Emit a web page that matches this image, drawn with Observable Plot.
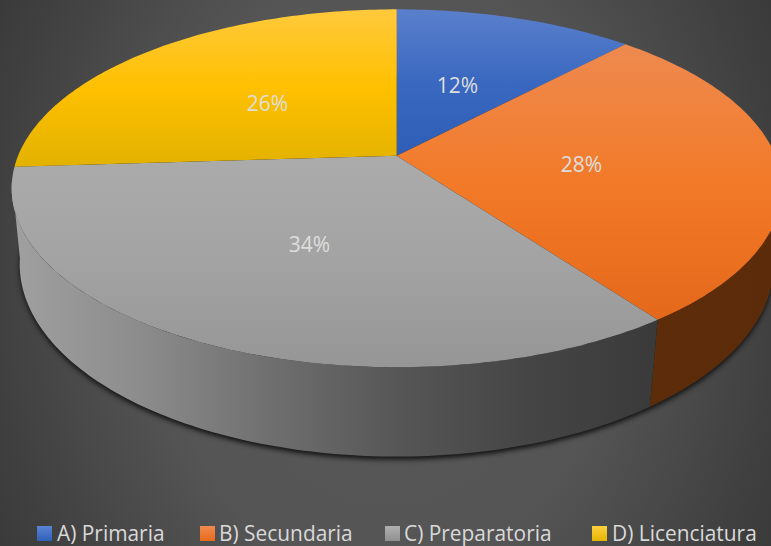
<!DOCTYPE html>
<html><head><meta charset="utf-8">
<script src="https://cdn.jsdelivr.net/npm/d3@7"></script>
<script src="https://cdn.jsdelivr.net/npm/@observablehq/plot@0.6"></script>
<style>
html,body{margin:0;padding:0;width:771px;height:546px;overflow:hidden;}
body{background:radial-gradient(ellipse 460px 600px at 50% 50%,#585858 0%,#555555 50%,#404040 85%,#383838 100%);font-family:"Open Sans",sans-serif;}
svg{display:block;background:transparent!important;}
#legend{position:relative;height:32px;color:#d9d9d9;font-size:20.9px;}
#legend span{position:absolute;top:7px;white-space:nowrap;line-height:24px;}
#legend i{position:absolute;top:12px;width:14.5px;height:15px;}
</style></head><body>
<div id="chart"></div><div id="legend"></div>
<script>
const categories = ["A) Primaria","B) Secundaria","C) Preparatoria","D) Licenciatura"];
const shares = [12,28,34,26];
const labels = ["12%","28%","34%","26%"];
const labelX = [457,581,309,267];
const labelY = [85.5,164.5,244.5,104];
const swatchTop = ["#5b84d4","#f08a50","#b0b0b0","#ffcf40"];
const swatchBottom = ["#2f60b8","#e86a18","#909090","#e5b400"];
const faceStops = [["#5a80cc","#3a68c0","#2e5eb6"],["#ee8a50","#f27a28","#e5681a"],["#ababab","#a3a3a3","#969696"],["#ffc93c","#ffc000","#e2b200"]];
const W=771,H=514;
const ax=396.2, topY=155.2, topRx=378.6, topRy=173, topK=0.182, botY=231.1, botRx=371.5, botRy=186.7, botK=0.17;
const rad=d=>d*Math.PI/180;
const pt=(deg,cy,rx,ry,k)=>{const t=rad(deg),w=1+k*Math.cos(t);return [ax+rx*Math.sin(t)/w, cy-ry*Math.cos(t)/w];};
const upper=d=>pt(d,topY,topRx,topRy,topK), lower=d=>pt(d,botY,botRx,botRy,botK);
const arc=(a,b,f)=>{const n=Math.max(2,Math.ceil(Math.abs(b-a)));return d3.range(n+1).map(i=>f(a+(b-a)*i/n));};
const total=d3.sum(shares);
let acc=0;
const slices=shares.map(s=>{const a=acc/total*360;acc+=s;return {a,b:acc/total*360};});
const faces=slices.map(s=>[[ax,topY],...arc(s.a,s.b,upper)]);
const LEFT=262;
const sideOrange=[[ax,topY],...arc(100,slices[1].b,upper),...arc(slices[1].b,100,lower),upper(100)];
const sideGray=[[ax,topY],...arc(slices[2].a,LEFT,upper),...arc(LEFT,slices[2].a,lower),upper(slices[2].a)];
const shadow=arc(0,360,lower);
const defsMark=()=>{
  const NS="http://www.w3.org/2000/svg";
  const d=document.createElementNS(NS,"defs");
  const grad=(id,stops,x2,y2)=>{
    const g=document.createElementNS(NS,"linearGradient");
    g.setAttribute("id",id);g.setAttribute("x1","0");g.setAttribute("y1","0");g.setAttribute("x2",x2);g.setAttribute("y2",y2);
    stops.forEach((c,i)=>{const st=document.createElementNS(NS,"stop");st.setAttribute("offset",i/(stops.length-1));st.setAttribute("stop-color",c);g.appendChild(st);});
    d.appendChild(g);
  };
  faceStops.forEach((s,i)=>grad("face"+i,s,"0","1"));
  grad("sideGray",["#a0a0a0","#8c8c8c","#6f6f6f","#565656","#454545","#3a3a3a"],"1","0");
  grad("sideOrange",["#5e2d0a","#5c2c0a"],"1","0");
  return d;
};
const poly=(pts,opts)=>Plot.line(pts,{x:d=>d[0],y:d=>d[1],...opts});
const plot=Plot.plot({
  width:W,height:H,margin:0,
  x:{domain:[0,W],range:[0,W],axis:null},
  y:{domain:[0,H],range:[0,H],axis:null},
  style:{background:"transparent"},
  marks:[
    defsMark,
    poly(shadow,{fill:"#141414",dx:0,dy:3,imageFilter:"blur(2.5px)"}),
    poly(sideOrange,{fill:"url(#sideOrange)"}),
    poly(sideGray,{fill:"url(#sideGray)"}),
    ...faces.map((f,i)=>poly(f,{fill:`url(#face${i})`})),
    Plot.text(labels,{x:(d,i)=>labelX[i],y:(d,i)=>labelY[i],text:d=>d,fill:"#dedede",fontSize:21,fontFamily:"Open Sans"})
  ]
});
document.getElementById("chart").appendChild(plot);
const lg=document.getElementById("legend");
const swX=[37,200,385,592], txX=[57,219,404,612];
categories.forEach((c,i)=>{
  const sw=document.createElement("i");sw.style.left=swX[i]+"px";sw.style.background=`linear-gradient(${swatchTop[i]},${swatchBottom[i]})`;lg.appendChild(sw);
  const t=document.createElement("span");t.style.left=txX[i]+"px";t.textContent=c;lg.appendChild(t);
});
</script></body></html>
